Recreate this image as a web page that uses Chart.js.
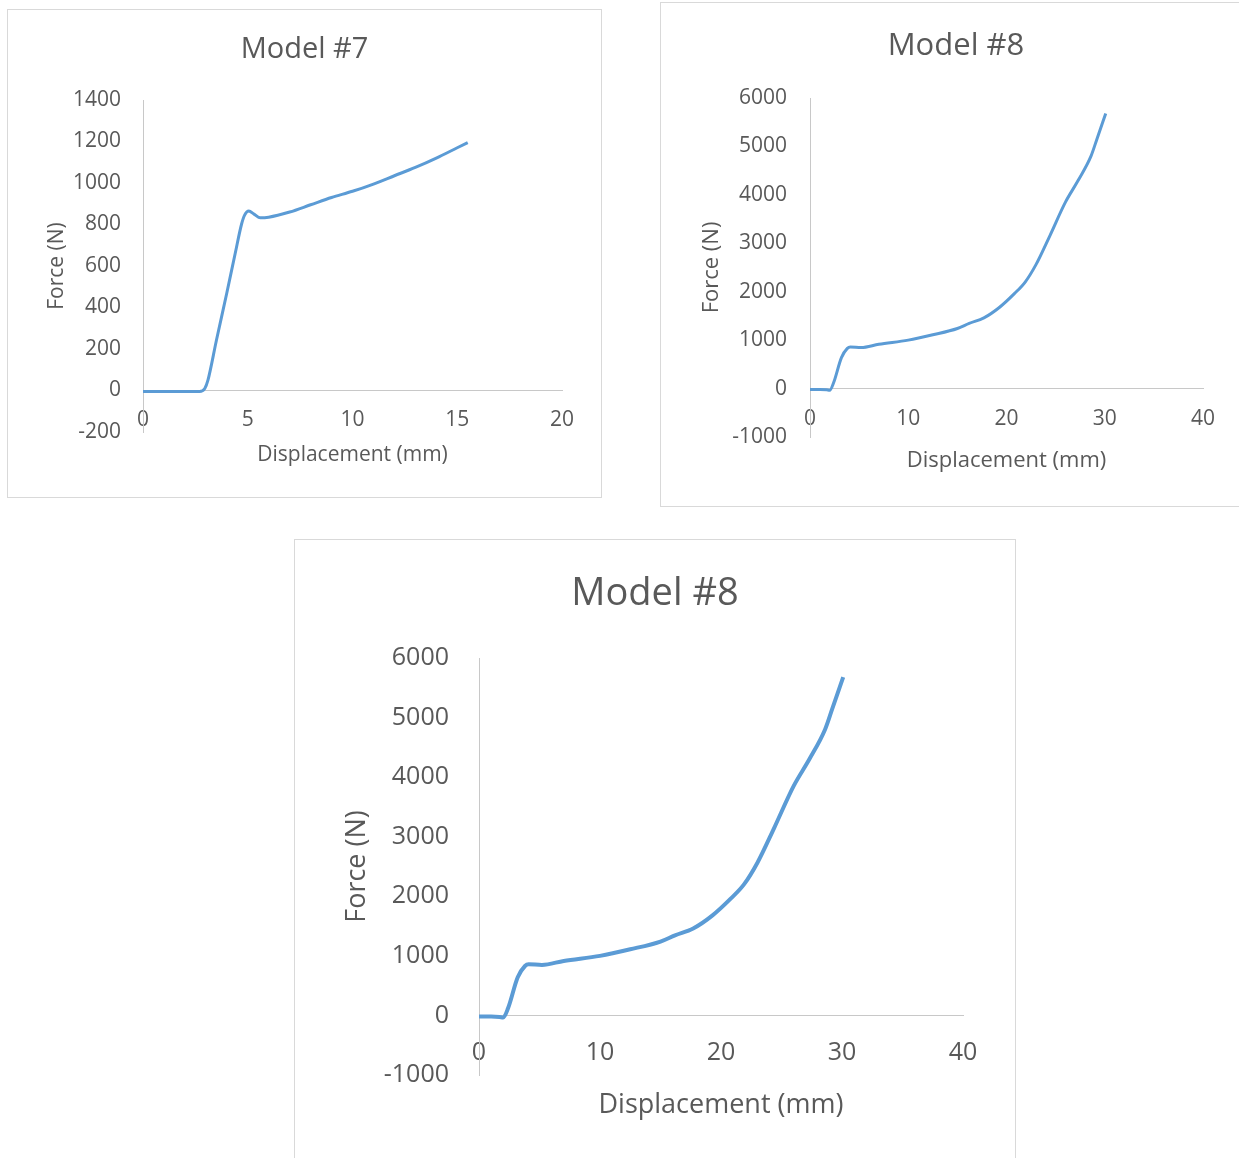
<!DOCTYPE html>
<html>
<head>
<meta charset="utf-8">
<title>Force vs displacement</title>
<script src="https://cdn.jsdelivr.net/npm/chart.js@4.4.1/dist/chart.umd.min.js"></script>
<style>
  html, body { margin: 0; padding: 0; background: #fff; overflow: hidden; }
  .box { position: absolute; border: 1px solid #d9d9d9; background: #fff; }
  .box canvas { display: block; }
</style>
</head>
<body>
<div class="box" style="left:7px;top:9px;"><canvas id="chart7" width="593" height="487"></canvas></div>
<div class="box" style="left:660px;top:2px;"><canvas id="chart8a" width="590" height="503"></canvas></div>
<div class="box" style="left:294px;top:539px;"><canvas id="chart8b" width="720" height="630"></canvas></div>

<script>
// ── data: displacement (mm) / force (N) ──────────────────────────────────────
const M7_DISP  = [0, 1, 2, 2.7, 2.95, 3.1, 3.5, 4.0, 4.4, 4.7, 4.85, 5.05, 5.3, 5.6, 6, 7, 8, 9, 10, 11, 12, 13, 14, 15, 15.5];
const M7_FORCE = [-5, -5, -5, -5, 10, 50, 240, 470, 660, 800, 845, 865, 850, 832, 835, 860, 895, 930, 960, 995, 1035, 1075, 1120, 1170, 1195];

const M8_DISP  = [0, 1, 1.7, 2.0, 2.4, 3.2, 3.8, 4.1, 5.2, 7, 10, 12.5, 15, 16.2, 17.7, 19.3, 20.8, 21.9, 23, 24.4, 26, 27.3, 28.6, 29.2, 30.1];
const M8_FORCE = [-20, -20, -25, -35, 120, 640, 830, 860, 848, 915, 1000, 1110, 1240, 1345, 1460, 1680, 1960, 2200, 2560, 3150, 3850, 4300, 4800, 5150, 5680];

const X_TITLE = 'Displacement (mm)';
const Y_TITLE = 'Force (N)';

const FONT = "'Open Sans', 'Liberation Sans', sans-serif";
const TEXT_COLOR = '#595959';
const AXIS_COLOR = '#c8c8c8';
const LINE_COLOR = '#5B9BD5';

// ── one Excel-style line chart per canvas ────────────────────────────────────
// side padding is equal on both sides so the chart title stays centred on the box
function drawModel(id, title, disp, force, g) {
  const points = disp.map((x, i) => ({ x: x, y: force[i] }));
  const tickFont = { family: FONT, size: g.tickSize, lineHeight: 1.2 };
  const axisFont = { family: FONT, size: g.axisTitleSize, lineHeight: 1.2 };

  return new Chart(document.getElementById(id), {
    type: 'line',
    data: {
      datasets: [{
        data: points,
        borderColor: LINE_COLOR,
        borderWidth: g.lineWidth,
        pointRadius: 0,
        cubicInterpolationMode: 'monotone',
        fill: false,
      }]
    },
    options: {
      responsive: false,
      animation: false,
      devicePixelRatio: 1,
      layout: { padding: { left: g.padSide, top: 0, right: g.padSide, bottom: g.padBottom } },
      plugins: {
        legend: { display: false },
        tooltip: { enabled: false },
        title: {
          display: true,
          text: title,
          color: TEXT_COLOR,
          font: { family: FONT, size: g.titleSize, weight: 'normal', lineHeight: 1.2 },
          padding: { top: g.titleTop, bottom: g.titleBottom }
        }
      },
      scales: {
        x: {
          type: 'linear',
          position: { y: 0 },          // horizontal axis crosses at force = 0
          min: 0,
          max: g.xMax,
          grid: { display: false, drawTicks: false },
          border: { display: true, color: AXIS_COLOR, width: 1 },
          ticks: {
            stepSize: g.xStep, color: TEXT_COLOR, font: tickFont,
            padding: g.xTickPad, maxRotation: 0, autoSkip: false,
            callback: v => v
          },
          title: {
            display: true, text: X_TITLE, color: TEXT_COLOR, font: axisFont,
            padding: { top: g.xTitlePad, bottom: 0 }
          }
        },
        y: {
          type: 'linear',
          position: 'left',
          min: g.yMin,
          max: g.yMax,
          afterFit: s => { s.width = g.yAxisWidth; },
          grid: { display: false, drawTicks: false },
          border: { display: true, color: AXIS_COLOR, width: 1 },
          ticks: {
            stepSize: g.yStep, color: TEXT_COLOR, font: tickFont,
            padding: g.yTickPad, autoSkip: false,
            callback: v => v
          },
          title: {
            display: true, text: Y_TITLE, color: TEXT_COLOR, font: axisFont,
            padding: { top: g.yTitlePad, bottom: 0 }
          }
        }
      }
    }
  });
}

drawModel('chart7', 'Model #7', M7_DISP, M7_FORCE, {
  titleSize: 29, titleTop: 22.6, titleBottom: 32.6,
  padSide: 39, padBottom: 65, yAxisWidth: 96,
  tickSize: 21, axisTitleSize: 21,
  yTickPad: 22, yTitlePad: -2.6,
  xTickPad: 16.9, xTitlePad: -7.1,
  xMax: 20, xStep: 5, yMin: -200, yMax: 1400, yStep: 200,
  lineWidth: 3
});

drawModel('chart8a', 'Model #8', M8_DISP, M8_FORCE, {
  titleSize: 31, titleTop: 24.4, titleBottom: 33.4,
  padSide: 48, padBottom: 69, yAxisWidth: 101,
  tickSize: 21, axisTitleSize: 22,
  yTickPad: 23, yTitlePad: -10.2,
  xTickPad: 17.8, xTitlePad: -1.6,
  xMax: 40, xStep: 10, yMin: -1000, yMax: 6000, yStep: 1000,
  lineWidth: 3
});

drawModel('chart8b', 'Model #8', M8_DISP, M8_FORCE, {
  titleSize: 38, titleTop: 31.2, titleBottom: 41.2,
  padSide: 52, padBottom: 95, yAxisWidth: 132,
  tickSize: 25, axisTitleSize: 27,
  yTickPad: 30, yTitlePad: -6.2,
  xTickPad: 22.6, xTitlePad: -1.8,
  xMax: 40, xStep: 10, yMin: -1000, yMax: 6000, yStep: 1000,
  lineWidth: 4
});
</script>
</body>
</html>
